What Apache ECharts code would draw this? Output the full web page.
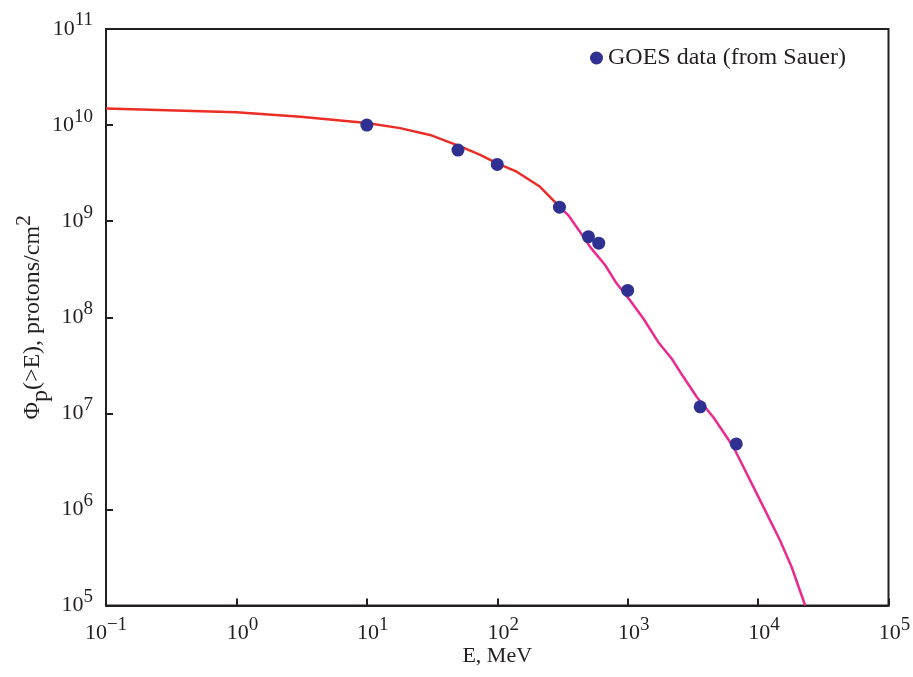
<!DOCTYPE html>
<html>
<head>
<meta charset="utf-8">
<script src="https://cdn.jsdelivr.net/npm/echarts@6/dist/echarts.min.js"></script>
<style>
  html, body { margin: 0; padding: 0; background: #fff; }
  #chart { width: 913px; height: 677px; }
</style>
</head>
<body>
<div id="chart"></div>
<script>
// Integral proton fluence spectrum, Φp(>E) versus energy E (MeV)

// Model curve, low-energy part (red)
const modelLowE = [0.1, 1, 3.1, 10, 18, 30.5, 52, 74, 100, 141, 213, 300];
const modelLowF = [1.49e10, 1.36e10, 1.22e10, 1.05e10, 9.3e9, 7.9e9, 6.0e9, 4.9e9, 4.0e9, 3.27e9, 2.28e9, 1.42e9];

// Model curve, high-energy part (magenta)
const modelHighE = [300, 351, 432, 515, 671, 824, 1042, 1318, 1718, 2178, 2673, 3388, 4539, 6471, 10670, 14750, 18110, 22960];
const modelHighF = [1.42e9, 1.15e9, 7.7e8, 5.4e8, 3.5e8, 2.24e8, 1.5e8, 9.7e7, 5.5e7, 3.7e7, 2.4e7, 1.48e7, 9.1e6, 4.46e6, 1.15e6, 4.75e5, 2.5e5, 1.0e5];

// GOES measurements
const goesE = [10, 50, 100, 300, 500, 600, 1000, 3600, 6800];
const goesF = [1.0e10, 5.5e9, 3.9e9, 1.4e9, 6.9e8, 5.9e8, 1.9e8, 1.17e7, 4.8e6];

// Decade tick exponents
const xTickExponents = [-1, 0, 1, 2, 3, 4, 5];
const yTickExponents = [5, 6, 7, 8, 9, 10, 11];

const seriesName = 'GOES data (from Sauer)';
const xTitle = 'E, MeV';

const zip = (a, b) => a.map((v, i) => [v, b[i]]);

const ink = '#231f20';
const serif = '"Liberation Serif", "DejaVu Serif", serif';

function powLabel(v, list, shiftPositive) {
  const e = Math.round(Math.log10(v));
  if (list.indexOf(e) < 0) return '';
  const txt = e < 0 ? '\u2212' + Math.abs(e) : String(e);
  const lead = shiftPositive && e >= 0 ? '{p| }' : '';
  return lead + '{b|10}{s|' + txt + '}';
}

// "10" with a raised exponent: the tall base token sets the line box,
// the small exponent token sticks to its top
const labelRich = {
  p: { fontFamily: serif, fontSize: 12, width: 12, lineHeight: 36 },
  b: { fontFamily: serif, fontSize: 22, color: ink, lineHeight: 36, verticalAlign: 'middle' },
  s: { fontFamily: serif, fontSize: 19, color: ink, lineHeight: 18, verticalAlign: 'top' }
};

const chart = echarts.init(document.getElementById('chart'), null, { renderer: 'canvas' });

chart.setOption({
  animation: false,
  backgroundColor: '#fff',
  grid: {
    left: 106, right: 24.5, top: 29, bottom: 71.5,
    outerBoundsMode: 'none', containLabel: false,
    show: true, borderColor: ink, borderWidth: 2, backgroundColor: 'transparent'
  },
  legend: {
    data: [{ name: seriesName, icon: 'circle' }],
    left: 585, top: 41,
    itemWidth: 13, itemHeight: 13,
    textStyle: { fontFamily: serif, fontSize: 24, color: ink }
  },
  xAxis: {
    type: 'log', logBase: 10, min: 0.1, max: 1e5, interval: 1,
    name: xTitle, nameLocation: 'middle', nameGap: 40, nameMoveOverlap: false,
    nameTextStyle: { fontFamily: serif, fontSize: 22, color: ink },
    axisLine: { lineStyle: { color: ink, width: 2 } },
    axisTick: { inside: true, length: 7, lineStyle: { color: ink, width: 2 } },
    minorTick: { show: false },
    splitLine: { show: false },
    axisLabel: {
      margin: 10,
      formatter: v => powLabel(v, xTickExponents, true),
      rich: labelRich
    }
  },
  yAxis: {
    type: 'log', logBase: 10, min: 1e5, max: 1e11, interval: 1,
    name: '{t|\u03A6}{sub|p}{t|(>E), protons/cm}{sup|2}',
    nameLocation: 'middle', nameGap: 53, nameRotate: 90, nameMoveOverlap: false,
    nameTextStyle: {
      rich: {
        t: { fontFamily: serif, fontSize: 24, color: ink, lineHeight: 40, verticalAlign: 'middle' },
        sub: { fontFamily: serif, fontSize: 24, color: ink, lineHeight: 32, verticalAlign: 'bottom' },
        sup: { fontFamily: serif, fontSize: 22, color: ink, lineHeight: 26, verticalAlign: 'top' }
      }
    },
    axisLine: { lineStyle: { color: ink, width: 2 } },
    axisTick: { inside: true, length: 7, lineStyle: { color: ink, width: 2 } },
    splitLine: { show: false },
    axisLabel: {
      margin: 13,
      formatter: v => powLabel(v, yTickExponents, false),
      rich: labelRich
    }
  },
  series: [
    {
      name: 'model-low', type: 'line', data: zip(modelLowE, modelLowF),
      showSymbol: false, symbol: 'none', smooth: false, clip: true,
      lineStyle: { color: '#ec2d26', width: 2.5 }, z: 2
    },
    {
      name: 'model-high', type: 'line', data: zip(modelHighE, modelHighF),
      showSymbol: false, symbol: 'none', smooth: false, clip: true,
      lineStyle: { color: '#ea2a8e', width: 2.5 }, z: 2
    },
    {
      name: seriesName, type: 'scatter', data: zip(goesE, goesF),
      symbol: 'circle', symbolSize: 13,
      itemStyle: { color: '#2e3192', opacity: 1 }, z: 3
    }
  ]
});
</script>
</body>
</html>
